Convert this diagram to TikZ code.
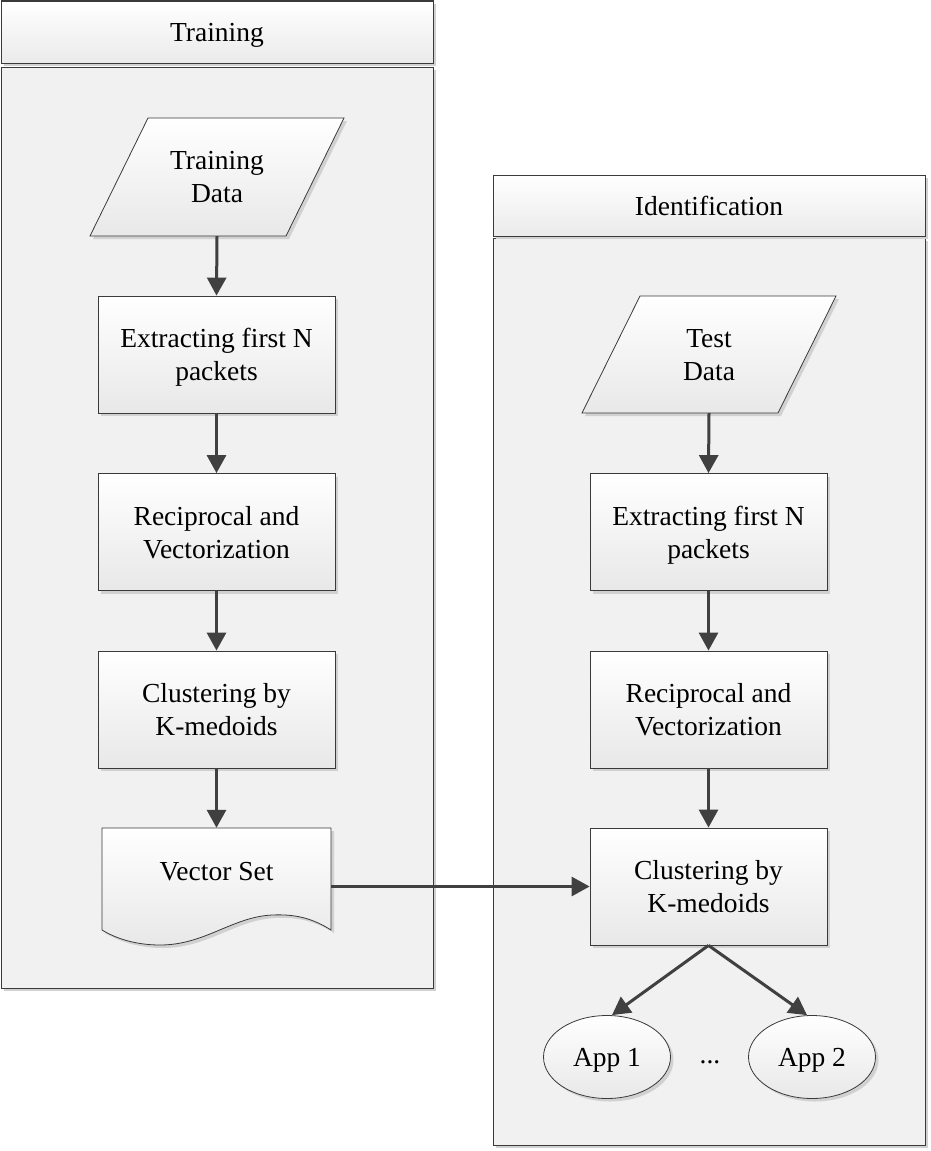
\documentclass[tikz,border=0pt]{standalone}
\usepackage{fontspec}
\setmainfont{Liberation Serif}
\usetikzlibrary{shadows,arrows.meta,shapes.geometric}
\definecolor{edge}{HTML}{3A3A3A}
\definecolor{arrowc}{HTML}{404040}
\definecolor{panelgray}{HTML}{F1F1F1}
\newcommand{\diafont}{\fontsize{27.5}{33}\selectfont}
\begin{document}
\begin{tikzpicture}[x=1pt,y=-1pt,
  myshadow/.style={drop shadow={shadow xshift=3pt,shadow yshift=-3pt,fill=black!18,opacity=1}},
  panel/.style={draw=edge,line width=1pt,fill=panelgray,myshadow},
  header/.style={draw=edge,line width=1pt,top color=white,bottom color=black!8,myshadow,
    font=\diafont,text depth=0pt},
  shadedfill/.style={draw=edge,line width=0.8pt,top color=white,bottom color=black!9,myshadow},
  proc/.style={rectangle,shadedfill,minimum width=237pt,minimum height=117pt,align=center,
    font=\diafont,text depth=0pt},
  textonly/.style={rectangle,align=center,font=\diafont,text depth=0pt},
  term/.style={ellipse,shadedfill,minimum width=127pt,minimum height=83pt,
    font=\diafont,inner sep=0pt,text depth=0pt},
  flow/.style={draw=arrowc,line width=3pt,-{Triangle[length=18pt,width=19pt]}}
]
\useasboundingbox (0,0) rectangle (930,1151);
% panels
\path[panel] (1,67) rectangle (433,988);
\node[header,minimum width=432pt,minimum height=62pt] (th) at (217,32) {Training};
\path[panel] (493,238) rectangle (925,1145);
\node[header,minimum width=432pt,minimum height=61pt] (ih) at (709,205.5) {Identification};

% training column
\path[shadedfill] (148,118) -- (344,118) -- (286,236) -- (90,236) -- cycle;
\node[textonly,minimum width=200pt,minimum height=118pt] (td) at (217,177) {Training\\Data};
\node[proc] (e1) at (216.5,354.5) {Extracting first N\\packets};
\node[proc] (r1) at (216.5,532) {Reciprocal and\\Vectorization};
\node[proc] (k1) at (216.5,709.5) {Clustering by\\K-medoids};
\path[shadedfill] (102,828) -- (331,828) -- (331,930)
  .. controls (312,918) and (295,914) .. (272,915)
  .. controls (232,917) and (205,945) .. (160,945)
  .. controls (135,945) and (115,938) .. (102,930) -- cycle;
\node[rectangle,minimum width=229pt,minimum height=117pt] (vs) at (216.5,886.5) {};
\node[textonly] (vst) at (216.5,871) {Vector Set};

% identification column
\path[shadedfill] (640,296) -- (836,296) -- (778,413) -- (582,413) -- cycle;
\node[textonly,minimum width=200pt,minimum height=117pt] (tsd) at (709,354.5) {Test\\Data};
\node[proc] (e2) at (708.5,532) {Extracting first N\\packets};
\node[proc] (r2) at (708.5,709.5) {Reciprocal and\\Vectorization};
\node[proc] (k2) at (708.5,886.5) {Clustering by\\K-medoids};
\node[term] (a1) at (607,1057) {App 1};
\node[term] (a2) at (812,1057) {App 2};
\node[textonly] (dots) at (710,1062) {...};

% connectors
\draw[flow] (td.south) -- (e1.north);
\draw[flow] (e1) -- (r1);
\draw[flow] (r1) -- (k1);
\draw[flow] (k1) -- (vs.north);
\draw[flow] (tsd.south) -- (e2.north);
\draw[flow] (e2) -- (r2);
\draw[flow] (r2) -- (k2);
\draw[flow] (vs.east) -- (k2.west);
\draw[flow] (k2.south) -- ([xshift=5pt]a1.north);
\draw[flow] (k2.south) -- ([xshift=-5pt]a2.north);
\end{tikzpicture}
\end{document}
